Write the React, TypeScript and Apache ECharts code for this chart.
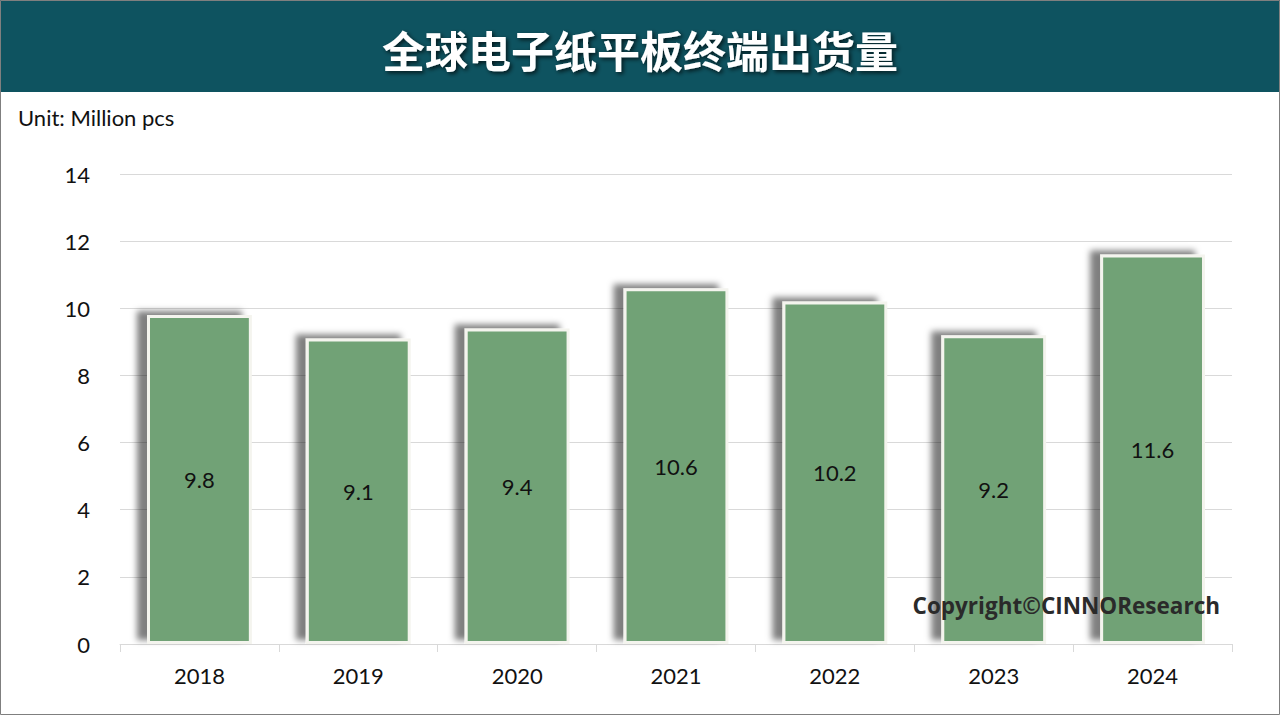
import React, { useEffect, useRef } from "react";
import * as echarts from "echarts";

const years = ["2018", "2019", "2020", "2021", "2022", "2023", "2024"];
const shipments = [9.8, 9.1, 9.4, 10.6, 10.2, 9.2, 11.6];
const titleText = "全球电子纸平板终端出货量";
const unitText = "Unit: Million pcs";
const copyrightText = "Copyright©CINNOResearch";

export default function App() {
  const ref = useRef<HTMLDivElement>(null);
  useEffect(() => {
    document.body.style.margin = "0";
    const chart = echarts.init(ref.current!, undefined, { renderer: "svg" });
    chart.setOption({
      animation: false,
      backgroundColor: "#ffffff",
      textStyle: { fontFamily: "Lato, 'Noto Sans', sans-serif" },
      grid: { left: 120, right: 48, top: 174, bottom: 71 },
      xAxis: {
        type: "category",
        data: years,
        axisLine: { lineStyle: { color: "#d9d9d9", width: 1 } },
        axisTick: { show: true, length: 8, lineStyle: { color: "#d9d9d9" } },
        axisLabel: { color: "#111", fontSize: 22, margin: 20, fontFamily: "Lato, sans-serif" },
      },
      yAxis: {
        type: "value",
        min: 0,
        max: 14,
        interval: 2,
        axisLine: { show: false },
        axisTick: { show: false },
        splitLine: { lineStyle: { color: "#d9d9d9", width: 1 } },
        axisLabel: { color: "#111", fontSize: 22, margin: 30, fontFamily: "Lato, sans-serif" },
      },
      series: [
        {
          type: "bar",
          data: shipments,
          barWidth: "66%",
          itemStyle: {
            color: "#71a276",
            borderColor: "#f4f4ee",
            borderWidth: 3,
            shadowColor: "rgba(0,0,0,0.5)",
            shadowBlur: 6,
            shadowOffsetX: -10,
            shadowOffsetY: -4,
          },
          label: {
            show: true,
            position: "inside",
            color: "#111",
            fontSize: 22,
            fontFamily: "Lato, sans-serif",
          },
        },
      ],
      graphic: [
        {
          type: "rect",
          z: 100,
          shape: { x: 0.5, y: 0.5, width: 1279, height: 714 },
          style: { fill: "none", stroke: "#7f7f7f", lineWidth: 1 },
        },
        {
          type: "rect",
          z: 90,
          shape: { x: 0, y: 0, width: 1280, height: 92 },
          style: { fill: "#0e5360" },
        },
        {
          type: "text",
          z: 95,
          x: 640,
          y: 49,
          style: {
            text: titleText,
            fill: "#ffffff",
            fontSize: 43,
            fontWeight: "bold",
            fontFamily: "'Noto Sans CJK SC', sans-serif",
            align: "center",
            verticalAlign: "middle",
            textShadowColor: "rgba(0,0,0,0.7)",
            textShadowBlur: 4,
            textShadowOffsetX: 2,
            textShadowOffsetY: 2,
          },
        },
        {
          type: "text",
          z: 95,
          x: 18,
          y: 117,
          style: {
            text: unitText,
            fill: "#111",
            fontSize: 22,
            fontFamily: "Lato, sans-serif",
            verticalAlign: "middle",
          },
        },
        {
          type: "text",
          z: 95,
          x: 1220,
          y: 605,
          style: {
            text: copyrightText,
            fill: "#2a2a2a",
            fontSize: 22.5,
            fontWeight: "bold",
            fontFamily: "'Open Sans', sans-serif",
            align: "right",
            verticalAlign: "middle",
          },
        },
      ],
    });
    return () => chart.dispose();
  }, []);
  return <div ref={ref} style={{ width: 1280, height: 715 }} />;
}
